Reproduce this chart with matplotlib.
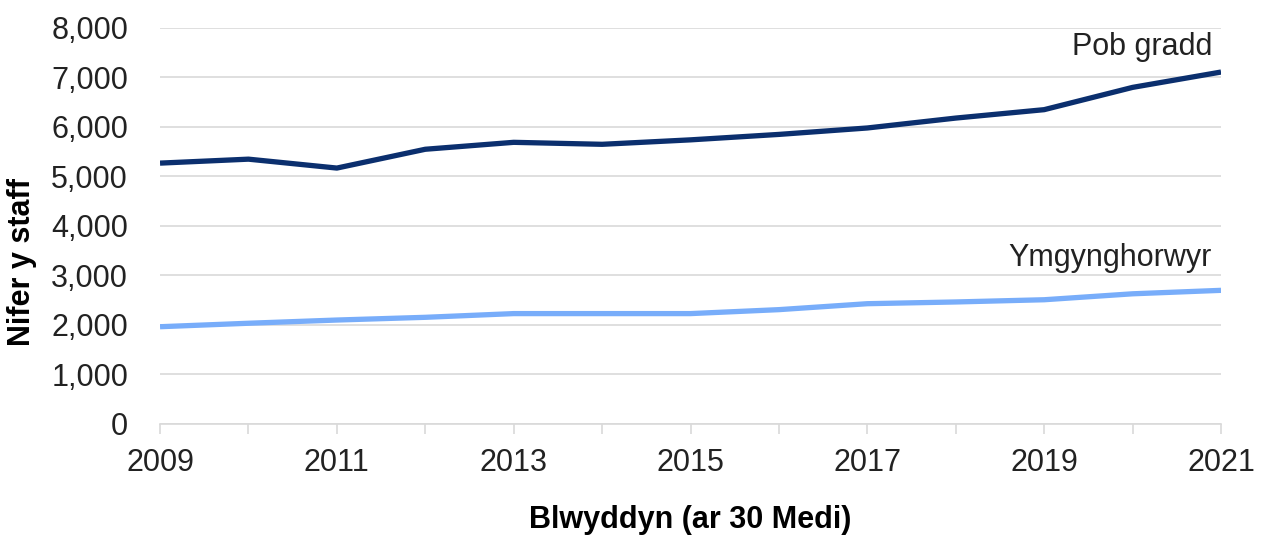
import matplotlib.pyplot as plt
from matplotlib.ticker import FuncFormatter, MultipleLocator

plt.rcParams['font.family'] = ['Liberation Sans', 'DejaVu Sans']

years = [2009, 2010, 2011, 2012, 2013, 2014, 2015, 2016, 2017, 2018, 2019, 2020, 2021]
pob_gradd = [5270, 5350, 5170, 5550, 5690, 5650, 5740, 5850, 5980, 6180, 6350, 6800, 7110]
ymgynghorwyr = [1965, 2035, 2100, 2155, 2230, 2230, 2230, 2310, 2430, 2465, 2510, 2630, 2700]

x_labels = [2009, 2011, 2013, 2015, 2017, 2019, 2021]

fig = plt.figure(figsize=(12.64, 5.35), dpi=100)
ax = fig.add_axes([0.1266, 0.2075, 0.8394, 0.7402])

ax.plot(years, pob_gradd, color='#0b2f6e', lw=3.8, solid_capstyle='butt')
ax.plot(years, ymgynghorwyr, color='#78adfa', lw=3.8, solid_capstyle='butt')

ax.set_xlim(2009, 2021)
ax.set_ylim(0, 8000)
ax.yaxis.set_major_locator(MultipleLocator(1000))
ax.yaxis.set_major_formatter(FuncFormatter(lambda v, p: f'{int(v):,}'))
ax.set_xticks(x_labels)
ax.set_xticks(years, minor=True)

ax.grid(axis='y', color='#d9d9d9', lw=1.2)
ax.set_axisbelow(True)
for s in ['top', 'right', 'left']:
    ax.spines[s].set_visible(False)
ax.spines['bottom'].set_color('#d9d9d9')
ax.spines['bottom'].set_linewidth(1.2)

ax.tick_params(axis='y', length=0, pad=23, labelsize=22, labelcolor='#222222')
ax.tick_params(axis='x', which='both', length=7, width=1.2, color='#d9d9d9',
               pad=10, labelsize=22, labelcolor='#222222')

ax.set_ylabel('Nifer y staff', fontsize=22, fontweight='bold')
ax.yaxis.set_label_coords(-0.116, 0.41)
ax.set_xlabel('Blwyddyn (ar 30 Medi)', fontsize=22, fontweight='bold', labelpad=20)

ax.text(2020.9, 7620, 'Pob gradd', fontsize=22, color='#222222', ha='right', va='center')
ax.text(2020.9, 3350, 'Ymgynghorwyr', fontsize=22, color='#222222', ha='right', va='center')

fig.savefig('out.png', dpi=100)
